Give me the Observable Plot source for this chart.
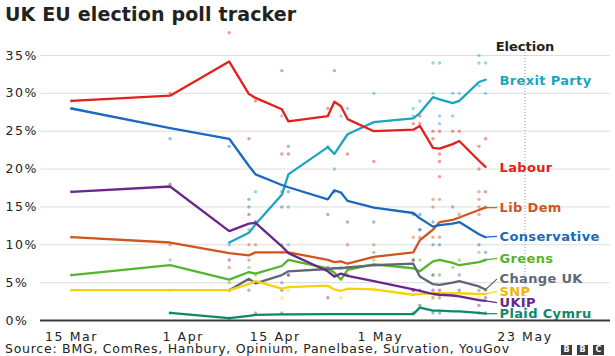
<!DOCTYPE html>
<html>
<head>
<meta charset="utf-8">
<script src="https://cdn.jsdelivr.net/npm/d3@7"></script>
<script src="https://cdn.jsdelivr.net/npm/@observablehq/plot@0.6"></script>
<style>
  body { margin: 0; background: #fff; }
  #wrap { position: relative; width: 615px; height: 356px; overflow: hidden; font-family: "DejaVu Sans", sans-serif; color: #222; }
  #chart { position: absolute; left: 0; top: 0; }
  #title { position: absolute; left: 5px; top: 2px; font-weight: bold; font-size: 19px; line-height: 24px; color: #222; white-space: nowrap; letter-spacing: 0.15px; }
  #source { position: absolute; left: 5px; top: 345px; font-size: 12.5px; line-height: 8px; color: #222; letter-spacing: 0.75px; white-space: nowrap; }
  .bbc { position: absolute; top: 345px; width: 11px; height: 10px; background: #3d3d3d; color: #fff; font: bold 8px "DejaVu Sans"; line-height: 10px; text-align: center; }
  g[aria-label="x-axis tick label"] text, g[aria-label="y-axis tick label"] text { letter-spacing: 1.6px; }
  .plabel text { letter-spacing: 0.35px; }
</style>
</head>
<body>
<div id="wrap">
  <div id="chart"></div>
  <div id="title">UK EU election poll tracker</div>
  <div id="source">Source: BMG, ComRes, Hanbury, Opinium, Panelbase, Survation, YouGov</div>
  <div class="bbc" style="left:561px">B</div>
  <div class="bbc" style="left:577px">B</div>
  <div class="bbc" style="left:593px">C</div>
</div>
<script>
// ---------- DATA ----------
const parties = ["Brexit Party", "Labour", "Lib Dem", "Conservative", "Greens", "Change UK", "SNP", "UKIP", "Plaid Cymru"];

// dates of the poll-of-polls averages (line vertices)
const dates = ["2019-03-15","2019-03-30","2019-04-08","2019-04-11","2019-04-12","2019-04-16","2019-04-17",
  "2019-04-23","2019-04-24","2019-04-25","2019-04-26","2019-04-30","2019-05-06","2019-05-07",
  "2019-05-09","2019-05-10","2019-05-12","2019-05-13","2019-05-16","2019-05-17"];

const brexitAvg       = [null, null, 10.3, 11.6, 12.7, 16.6, 19.3, 22.9, 22.0, 23.3, 24.6, 26.2, 26.7, 27.4, 29.5, 29.2, 28.7, 29.0, 31.5, 31.8];
const labourAvg       = [29.0, 29.7, 34.2, 29.9, 29.4, 27.9, 26.3, 27.0, 28.9, 28.3, 26.6, 25.0, 25.2, 25.7, 22.8, 22.7, 23.3, 23.7, 21.1, 20.3];
const libDemAvg       = [11.0, 10.3, 8.9, 8.6, 9.0, 9.0, 9.0, 8.0, 7.7, 7.8, 7.5, 8.4, 9.0, 10.6, 12.0, 13.0, 13.3, 13.6, 14.6, 14.9];
const conservativeAvg = [28.0, 25.4, 24.0, 20.4, 19.3, 17.9, 17.6, 16.0, 17.2, 16.9, 15.8, 14.9, 14.2, 13.5, 12.4, 12.6, 12.8, 13.0, 11.4, 11.0];
const greensAvg       = [6.0, 7.3, 5.4, 6.4, 6.2, 7.2, 8.0, 6.9, 6.3, 5.4, 6.7, 7.4, 6.9, 6.5, 7.8, 8.0, 7.6, 7.3, 7.7, 8.0];
const changeUkAvg     = [null, null, 4.0, 5.5, 4.9, 6.0, 6.5, 6.8, 6.9, 6.9, 7.0, 7.3, 7.5, 5.8, 4.8, 4.7, 5.0, 5.2, 4.5, 4.1];
const snpAvg          = [4.0, 4.0, 4.0, 4.8, 5.2, 4.2, 4.4, 4.6, 4.1, 3.9, 4.2, 4.1, 3.4, 3.5, 3.6, 3.6, 3.6, 3.6, 3.5, 3.5];
const ukipAvg         = [17.0, 17.7, 11.8, 12.8, 12.9, 9.8, 8.9, 6.5, 5.8, 6.2, 5.9, 5.2, 4.1, 3.9, 3.5, 3.4, 3.3, 3.2, 2.7, 2.6];
const plaidAvg        = [null, 1.0, 0.3, 0.6, 0.75, 0.8, 0.8, 0.85, 0.85, 0.85, 0.85, 0.85, 0.85, 1.7, 1.3, 1.3, 1.2, 1.2, 1.0, 0.9];

// individual polls [date, share]
const brexitPolls = [["2019-04-08",10],["2019-04-11",12],["2019-04-12",17],["2019-04-12",13],["2019-04-16",27],["2019-04-17",15],
  ["2019-04-23",23],["2019-04-24",20],["2019-04-25",27],["2019-04-26",28],["2019-04-30",30],["2019-05-06",27],["2019-05-06",28],
  ["2019-05-07",29],["2019-05-09",34],["2019-05-09",30],["2019-05-10",34],["2019-05-10",27],["2019-05-10",26],["2019-05-12",30],
  ["2019-05-12",27],["2019-05-13",30],["2019-05-16",35],["2019-05-16",34],["2019-05-16",31],["2019-05-17",34],["2019-05-17",30]];
const labourPolls = [["2019-03-15",29],["2019-03-30",30],["2019-04-08",38],["2019-04-11",24],["2019-04-12",29],["2019-04-16",33],
  ["2019-04-16",22],["2019-04-17",22],["2019-04-23",28],["2019-04-24",33],["2019-04-26",22],["2019-04-30",21],["2019-05-06",26],
  ["2019-05-07",27],["2019-05-07",26],["2019-05-09",25],["2019-05-09",24],["2019-05-10",25],["2019-05-10",22],["2019-05-10",21],
  ["2019-05-10",19],["2019-05-12",25],["2019-05-13",25],["2019-05-16",23],["2019-05-16",20],["2019-05-17",24],["2019-05-17",17]];
const libDemPolls = [["2019-03-15",11],["2019-03-30",10],["2019-04-08",7],["2019-04-11",10],["2019-04-11",8],["2019-04-12",10],
  ["2019-04-16",9],["2019-04-23",7],["2019-04-25",7],["2019-04-26",10],["2019-04-30",10],["2019-05-06",11],["2019-05-06",8],
  ["2019-05-07",11],["2019-05-07",12],["2019-05-09",16],["2019-05-09",15],["2019-05-09",11],["2019-05-10",16],["2019-05-10",11],
  ["2019-05-13",14],["2019-05-16",17],["2019-05-16",16],["2019-05-16",15],["2019-05-16",14],["2019-05-17",15]];
const conservativePolls = [["2019-03-15",28],["2019-03-30",24],["2019-04-08",23],["2019-04-11",16],["2019-04-11",15],["2019-04-16",17],
  ["2019-04-16",15],["2019-04-17",23],["2019-04-17",17],["2019-04-23",14],["2019-04-24",17],["2019-04-26",13],["2019-04-30",13],
  ["2019-05-06",14],["2019-05-07",14],["2019-05-07",12],["2019-05-09",13],["2019-05-09",10],["2019-05-10",10],["2019-05-12",15],
  ["2019-05-16",10],["2019-05-17",9]];
const greensPolls = [["2019-03-15",6],["2019-03-30",8],["2019-04-08",5],["2019-04-11",7],["2019-04-12",6],["2019-04-16",10],
  ["2019-04-17",10],["2019-04-23",7],["2019-04-30",8],["2019-05-06",8],["2019-05-07",8],["2019-05-09",6],["2019-05-12",7],
  ["2019-05-13",8],["2019-05-16",9],["2019-05-17",8]];
const changeUkPolls = [["2019-04-08",4],["2019-04-11",4],["2019-04-16",5],["2019-04-17",6],["2019-04-26",7],["2019-04-30",9],
  ["2019-05-06",8],["2019-05-06",4],["2019-05-09",6],["2019-05-09",3],["2019-05-10",6],["2019-05-10",3],["2019-05-13",6],
  ["2019-05-16",4],["2019-05-17",4]];
const snpPolls = [["2019-03-15",4],["2019-03-30",4],["2019-04-08",4],["2019-04-12",5],["2019-04-16",3],["2019-04-17",4],
  ["2019-04-25",3],["2019-04-30",4],["2019-05-07",2],["2019-05-09",3],["2019-05-16",3],["2019-05-17",4]];
const ukipPolls = [["2019-03-15",17],["2019-03-30",18],["2019-04-08",8],["2019-04-11",14],["2019-04-12",13],["2019-04-16",4],
  ["2019-04-17",6],["2019-04-23",3],["2019-04-26",6],["2019-05-06",4],["2019-05-07",4],["2019-05-09",4],["2019-05-10",4],
  ["2019-05-13",4],["2019-05-16",2],["2019-05-17",3]];
const plaidPolls = [["2019-03-30",1],["2019-04-08",0.3],["2019-04-12",1],["2019-04-16",1],["2019-05-06",1],["2019-05-07",2],
  ["2019-05-09",1],["2019-05-10",1],["2019-05-16",1],["2019-05-17",1]];

const yTicks = [0, 5, 10, 15, 20, 25, 30, 35];
const xTicks = ["2019-03-15", "2019-04-01", "2019-04-15", "2019-05-01", "2019-05-23"];
const electionDay = "2019-05-23";

// ---------- STYLE / LAYOUT ----------
const lineColors  = ["#1ba4c2", "#e2211c", "#cf561e", "#1b69bd", "#54b52c", "#5e6776", "#f5d20e", "#6b2689", "#0e876a"];
const labelColors = ["#1ba4c2", "#e2211c", "#cf561e", "#1b69bd", "#54b52c", "#5e6776", "#eeb408", "#6b2689", "#0e876a"];
const labelAt     = [31.7, 20.2, 14.9, 11.1, 8.2, 5.5, 3.85, 2.35, 0.9];   // label heights (% units)
const connector   = [false, false, true, true, true, true, true, true, true];

const avgSeries  = [brexitAvg, labourAvg, libDemAvg, conservativeAvg, greensAvg, changeUkAvg, snpAvg, ukipAvg, plaidAvg];
const pollSeries = [brexitPolls, labourPolls, libDemPolls, conservativePolls, greensPolls, changeUkPolls, snpPolls, ukipPolls, plaidPolls];

const P = d3.utcParse("%Y-%m-%d");
const dDates = dates.map(P);

const dotMarks = [], lineMarks = [], linkMarks = [], labelMarks = [];
const labelX = new Date(Date.UTC(2019, 4, 19, 3));
const linkEndX = new Date(Date.UTC(2019, 4, 18, 18));

parties.forEach((p, i) => {
  const pts = avgSeries[i].map((v, j) => ({date: dDates[j], value: v})).filter(d => d.value != null);
  const polls = pollSeries[i].map(([d, v]) => ({date: P(d), value: v}));
  dotMarks.push(Plot.dot(polls, {x: "date", y: "value", r: 1.7, fill: lineColors[i], fillOpacity: 0.45, stroke: "none"}));
  lineMarks.push(Plot.line(pts, {x: "date", y: "value", stroke: lineColors[i], strokeWidth: 2.3, strokeLinejoin: "round", strokeLinecap: "round"}));
  const last = pts[pts.length - 1];
  if (connector[i]) {
    linkMarks.push(Plot.link([last], {x1: "date", y1: "value", x2: () => linkEndX, y2: () => labelAt[i], stroke: lineColors[i], strokeWidth: 1.2}));
  }
  labelMarks.push(Plot.text([p], {x: () => labelX, y: () => labelAt[i], text: d => d, fill: labelColors[i],
    textAnchor: "start", fontWeight: "bold", fontSize: 13, className: "plabel"}));
});

const fmt = d3.utcFormat("%-d %b");

const chart = Plot.plot({
  width: 615,
  height: 356,
  marginLeft: 40,
  marginRight: 5,
  marginTop: 55,
  marginBottom: 36,
  x: {type: "utc", domain: [new Date(Date.UTC(2019, 2, 10, 6, 47)), new Date(Date.UTC(2019, 5, 5, 0, 15))], label: null},
  y: {domain: [0, 35], label: null},
  style: {fontFamily: "DejaVu Sans", fontSize: "13px", color: "#222", background: "transparent", overflow: "visible"},
  marks: [
    Plot.ruleY(yTicks.filter(d => d > 0), {stroke: "#dddddd", strokeWidth: 1}),
    Plot.axisY(yTicks, {tickSize: 0, tickPadding: 0, textAnchor: "start", dx: -35, fontSize: 12.5, tickFormat: d => d + "%", label: null, fill: "#222"}),
    Plot.axisX(xTicks.map(P), {tickSize: 0, tickPadding: 12, fontSize: 12.5, tickFormat: fmt, label: null, fill: "#222"}),
    Plot.ruleX([P(electionDay)], {y1: 0, y2: 35.9, stroke: "#999", strokeWidth: 1, strokeDasharray: "1,2"}),
    Plot.text(["Election"], {x: () => P(electionDay), frameAnchor: "top", dy: -14, text: d => d, fontWeight: "bold", fontSize: 13, fill: "#222"}),
    ...dotMarks,
    ...lineMarks,
    ...linkMarks,
    ...labelMarks,
    Plot.ruleY([0], {stroke: "#3a3a3a", strokeWidth: 2})
  ]
});
document.getElementById("chart").appendChild(chart);
</script>
</body>
</html>
